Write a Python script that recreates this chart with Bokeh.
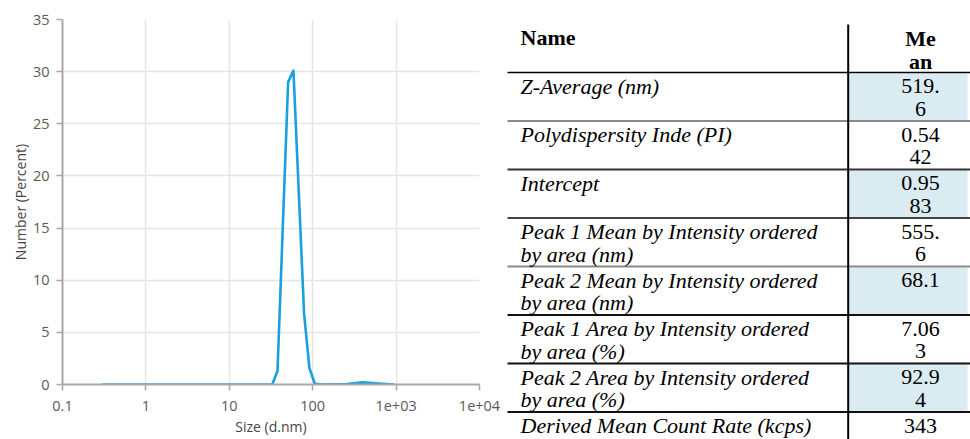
import textwrap
from bokeh.plotting import figure
from bokeh.layouts import row, column
from bokeh.models import Range1d, FixedTicker
from bokeh.core.properties import value
from bokeh.embed import file_html
from bokeh.resources import INLINE

# ---------------- data ----------------
size_nm = [0.3, 32.67, 37.84, 50.75, 58.77, 78.82, 91.28, 105.7, 122.4, 255.0, 396.1, 615.1, 955.4]
number_pct = [0.0, 0.0, 1.3, 29.0, 30.1, 6.8, 1.6, 0.1, 0.0, 0.05, 0.2, 0.1, 0.0]

x_ticks = [0.1, 1, 10, 100, 1000, 10000]
x_tick_labels = ["0.1", "1", "10", "100", "1e+03", "1e+04"]
y_ticks = [0, 5, 10, 15, 20, 25, 30, 35]

header_name = "Name"
header_mean = "Mean"
row_names = [
    "Z-Average (nm)",
    "Polydispersity Inde (PI)",
    "Intercept",
    "Peak 1 Mean by Intensity ordered by area (nm)",
    "Peak 2 Mean by Intensity ordered by area (nm)",
    "Peak 1 Area by Intensity ordered by area (%)",
    "Peak 2 Area by Intensity ordered by area (%)",
    "Derived Mean Count Rate (kcps)",
]
row_means = ["519.6", "0.5442", "0.9583", "555.6", "68.1", "7.063", "92.94", "343"]
shaded_rows = [True, False, True, False, True, False, True, False]

# ---------------- chart ----------------
FONT = "Open Sans"
p = figure(width=500, height=439, x_axis_type="log",
           x_range=Range1d(0.1, 10000), y_range=Range1d(0, 35),
           output_backend="svg", toolbar_location=None,
           min_border_left=62, min_border_right=21, min_border_top=19, min_border_bottom=55)
p.outline_line_color = None
p.background_fill_color = "white"
p.border_fill_color = "white"

p.grid.grid_line_color = "#e6e6e6"
p.grid.grid_line_width = 1.5

p.line(size_nm, number_pct, line_color="#1a9fe0", line_width=2.6, line_join="round")

xa = p.xaxis[0]
xa.ticker = FixedTicker(ticks=x_ticks)
xa.major_label_overrides = {t: l for t, l in zip(x_ticks, x_tick_labels)}
ya = p.yaxis[0]
ya.ticker = FixedTicker(ticks=y_ticks)
p.xgrid[0].ticker = FixedTicker(ticks=x_ticks)
p.ygrid[0].ticker = FixedTicker(ticks=y_ticks)

for ax in (xa, ya):
    ax.axis_line_color = "#a8a8a8"
    ax.axis_line_width = 2
    ax.major_tick_line_color = "#a8a8a8"
    ax.major_tick_line_width = 1.5
    ax.major_tick_in = 0
    ax.major_tick_out = 6
    ax.minor_tick_line_color = None
    ax.major_label_text_font = FONT
    ax.major_label_text_font_size = "14.5px"
    ax.major_label_text_color = "#5a5a5a"
    ax.axis_label_text_font = FONT
    ax.axis_label_text_font_size = "14px"
    ax.axis_label_text_font_style = "normal"
    ax.axis_label_text_color = "#454545"

xa.axis_label = "Size (d.nm)"
ya.axis_label = "Number (Percent)"
xa.major_label_standoff = 10
xa.axis_label_standoff = 3
ya.major_label_standoff = 7
ya.axis_label_standoff = 0

# ---------------- table ----------------
X0, X1 = 500, 970
t = figure(width=470, height=439, x_range=Range1d(X0, X1), y_range=Range1d(439, 0),
           output_backend="svg", toolbar_location=None,
           x_axis_location=None, y_axis_location=None, min_border=0)
t.outline_line_color = None
t.grid.visible = False
t.background_fill_color = "white"
t.border_fill_color = "white"

SERIF = "Liberation Serif"
FS = "22px"
table_left, table_right = 507, 970
divider_x = 847.7
mean_cx = 920
name_x = 520
header_bottom = 72
row_h = 48.5
first_off = 13.5
line_gap = 22.5
row_tops = [header_bottom + i * row_h for i in range(len(row_names))]
line_colors = ["#8a8a8a", "#333333", "#444444", "#8a8a8a", "#111111", "#111111", "#111111"]

# shading
sl, sr, stp, sb = [], [], [], []
for i, sh in enumerate(shaded_rows):
    if sh:
        sl.append(divider_x + 1)
        sr.append(967)
        stp.append(row_tops[i] + 1)
        sb.append(row_tops[i] + row_h)
t.quad(left=sl, right=sr, top=stp, bottom=sb, fill_color="#daebf2", line_color=None)

# row lines
for i in range(1, len(row_tops)):
    t.segment(x0=[table_left], y0=[row_tops[i]], x1=[table_right], y1=[row_tops[i]],
              line_color=line_colors[i - 1], line_width=2)
t.segment(x0=[table_left], y0=[header_bottom], x1=[table_right], y1=[header_bottom],
          line_color="black", line_width=1.6)
t.segment(x0=[divider_x], y0=[24], x1=[divider_x], y1=[439], line_color="black", line_width=2)

# header text
t.text(x=[name_x], y=[36.5], text=[header_name], text_font=value(SERIF), text_font_size=FS,
       text_font_style="bold", text_baseline="middle", text_align="left", text_color="black")
hm = textwrap.wrap(header_mean, 2)
t.text(x=[mean_cx] * len(hm), y=[38 + k * line_gap for k in range(len(hm))], text=hm,
       text_font=value(SERIF), text_font_size=FS, text_font_style="bold",
       text_baseline="middle", text_align="center", text_color="black")

nx, ny, nt = [], [], []
mx, my, mt = [], [], []
for i, (nm, mv) in enumerate(zip(row_names, row_means)):
    for k, ln in enumerate(textwrap.wrap(nm, 32)):
        nx.append(name_x); ny.append(row_tops[i] + first_off + k * line_gap); nt.append(ln)
    for k, ln in enumerate(textwrap.wrap(mv, 4)):
        mx.append(mean_cx); my.append(row_tops[i] + first_off + k * line_gap); mt.append(ln)

t.text(x=nx, y=ny, text=nt, text_font=value(SERIF), text_font_size=FS, text_font_style="italic",
       text_baseline="middle", text_align="left", text_color="black")
t.text(x=mx, y=my, text=mt, text_font=value(SERIF), text_font_size=FS, text_font_style="normal",
       text_baseline="middle", text_align="center", text_color="black")

layout = row(column(p), column(t))
open("out.html", "w").write(file_html(layout, INLINE))
